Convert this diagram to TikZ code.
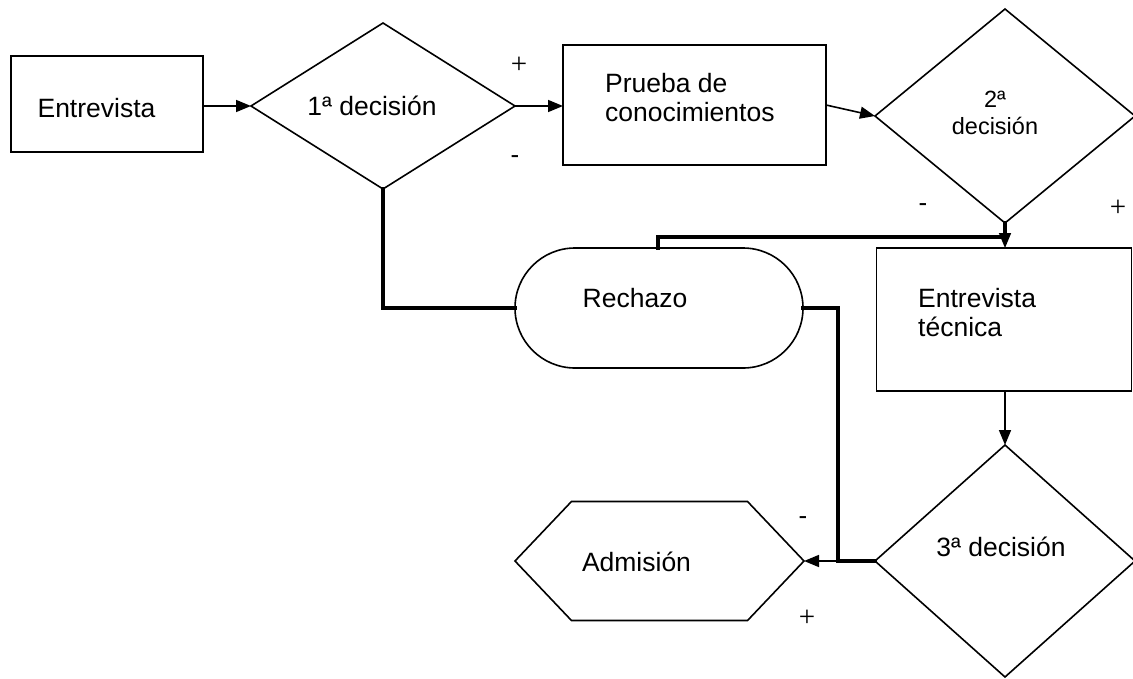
\documentclass[tikz,border=0pt]{standalone}
\usepackage{fontspec}
\setmainfont{Liberation Sans}
\newfontfamily\signfont{Liberation Serif}
\usetikzlibrary{shapes.geometric,shapes.misc,shapes.symbols,arrows.meta}
\begin{document}
\begin{tikzpicture}[x=1pt,y=-1pt,
  shp/.style={draw,line width=1.6pt,inner sep=0pt,outer sep=0pt},
  txt/.style={inner sep=0pt,font=\fontsize{26.5}{29}\selectfont},
  sml/.style={inner sep=0pt,font=\fontsize{23.5}{27}\selectfont},
  plus/.style={inner sep=0pt,font=\signfont\fontsize{29}{30}\selectfont},
  minus/.style={inner sep=0pt,font=\fontsize{26}{28}\selectfont},
  arr/.style={line width=1.6pt,-{Triangle[length=15pt,width=12pt]}},
  heavy/.style={line width=4.5pt,line cap=rect,line join=miter}]
\useasboundingbox (0,0) rectangle (1133,678);
\clip (0,0) rectangle (1133,678);

% process boxes
\node[shp,rectangle,minimum width=192pt,minimum height=96pt] (entrevista) at (107,104) {};
\node[txt] (tEntrevista) at (96.5,108) {Entrevista};

\node[shp,rectangle,minimum width=263pt,minimum height=120pt] (prueba) at (694.5,105) {};
\node[txt,anchor=north west,align=left] (tPrueba) at (605,73) {Prueba de\\conocimientos};

\node[shp,rectangle,minimum width=255pt,minimum height=143pt] (tecnica) at (1004,319.5) {};
\node[txt,anchor=north west,align=left] (tTecnica) at (918,288) {Entrevista\\técnica};

% decisions
\node[shp,diamond,minimum width=264pt,minimum height=166pt] (d1) at (383,106) {};
\node[txt] (tD1) at (372,106) {1ª decisión};

\node[shp,diamond,minimum width=260pt,minimum height=214pt] (d2) at (1005,116) {};
\node[sml,align=center] (tD2) at (995,113) {2ª\\decisión};

\node[shp,diamond,minimum width=260pt,minimum height=232pt] (d3) at (1005,561) {};
\node[txt] (tD3) at (1001,547) {3ª decisión};

% outcomes
\node[shp,rounded rectangle,minimum width=288pt,minimum height=120pt] (rechazo) at (659,308) {};
\node[txt] (tRechazo) at (635,298) {Rechazo};

\node[shp,signal,signal to=west and east,signal pointer angle=93,
      minimum width=289pt,minimum height=119pt] (admision) at (659.5,561) {};
\node[txt] (tAdmision) at (636.5,562) {Admisión};

% branch signs
\node[plus] (p1) at (519,65) {+};
\node[minus] (m1) at (515,160) {-};
\node[minus] (m2) at (923,208) {-};
\node[plus] (p2) at (1118,208) {+};
\node[minus] (m3) at (803,521) {-};
\node[plus] (p3) at (807,618) {+};

% junction points
\coordinate (j2) at (1005,237);
\coordinate (j3) at (838,561);

% main flow
\draw[arr] (entrevista.east |- d1.west) -- (d1.west);
\draw[arr] (d1.east) -- (prueba.west |- d1.east);
\draw[arr] (prueba.east) -- (d2.west);
\draw[arr] (tecnica.south -| d3.north) -- (d3.north);

% rejection paths
\draw[heavy] (d1.south) |- (rechazo.west);
\draw[heavy] (rechazo.north -| 658,0) |- (j2);
\draw[heavy] (d2.south) -- (j2);
\draw[arr] (j2) -- (j2 |- tecnica.north);
\draw[heavy] (rechazo.east) -| (j3) -- (d3.west);
\draw[arr] (j3) -- (admision.east);
\end{tikzpicture}
\end{document}
